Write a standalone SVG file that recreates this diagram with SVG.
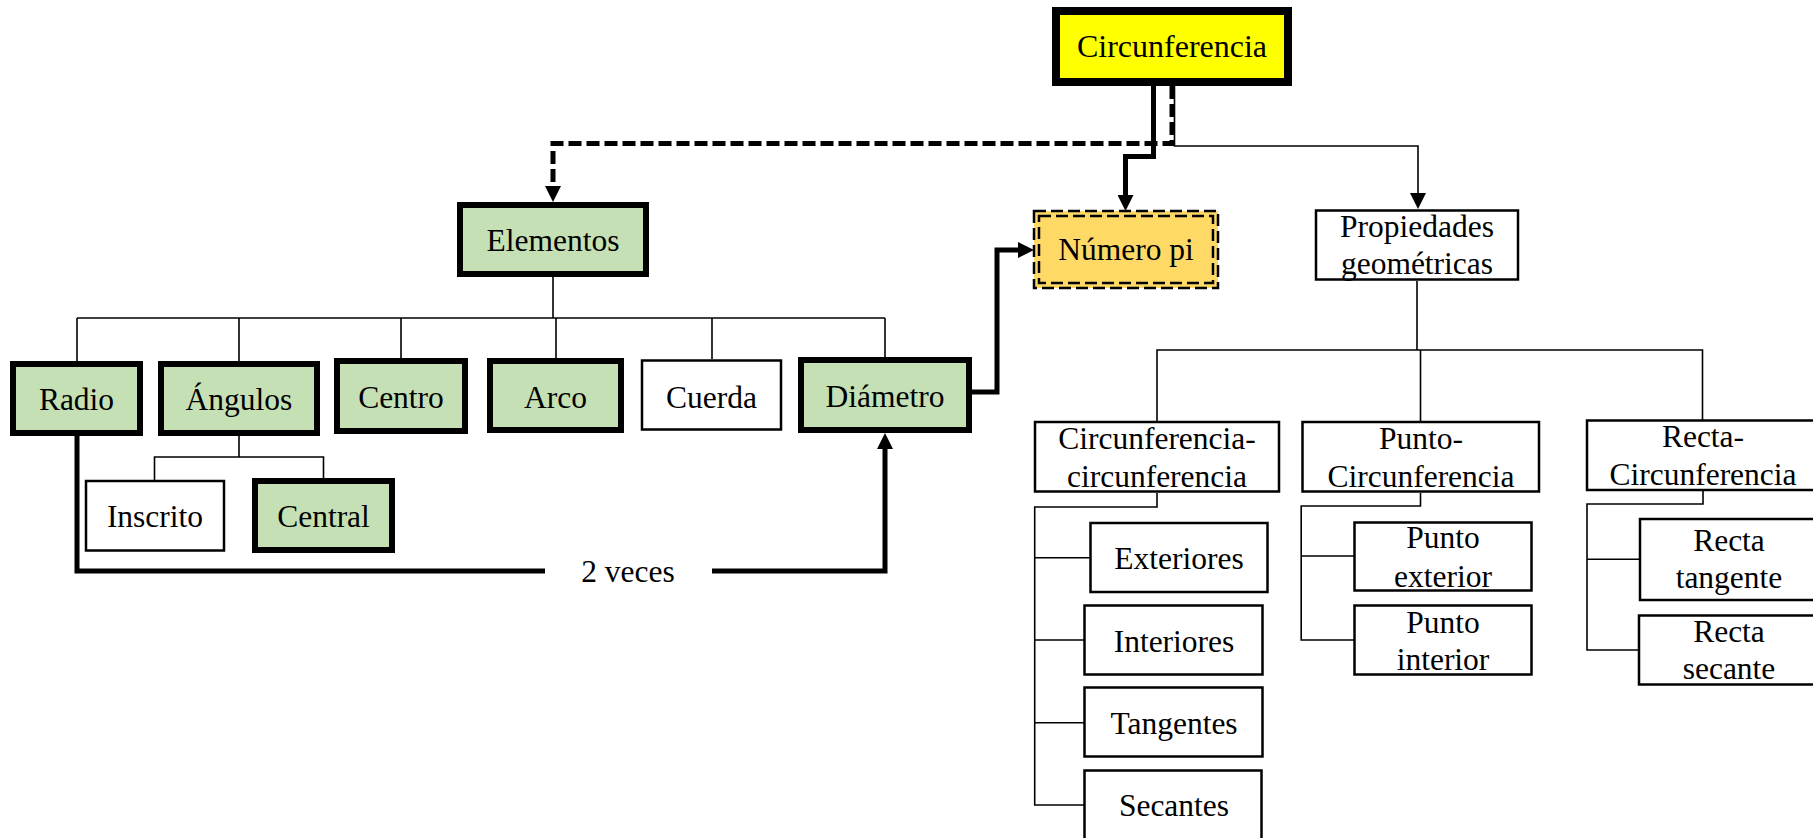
<svg xmlns="http://www.w3.org/2000/svg" width="1813" height="838" viewBox="0 0 1813 838">
<style>
text{font-family:"Liberation Serif","Times New Roman",serif;font-size:31.5px;fill:#000;text-anchor:middle}
.g{fill:#C5E0B4;stroke:#000;stroke-width:6}
.w{fill:#fff;stroke:#000;stroke-width:2.5}
.t{fill:none;stroke:#000;stroke-width:1.6}
.k{fill:none;stroke:#000;stroke-width:5}
.d{fill:none;stroke:#000;stroke-width:5;stroke-dasharray:13 5}
.pd{fill:none;stroke:#000;stroke-width:2.5;stroke-dasharray:12 5}
</style>
<defs>
<marker id="ah" viewBox="0 0 16 16" markerWidth="16" markerHeight="16" refX="0" refY="8" markerUnits="userSpaceOnUse" orient="auto"><path d="M0,0 L16,8 L0,16 z" fill="#000"/></marker>
</defs>
<rect width="1813" height="838" fill="#fff"/>
<g id="connectors">
<path class="t" d="M553,277 V318"/>
<path class="t" d="M77,318 H885"/>
<path class="t" d="M77,318 V361 M239,318 V361 M401,318 V358 M556,318 V358 M712,318 V359 M885,318 V357"/>
<path class="t" d="M239,436 V457 M154.5,481 V457 H323.5 V478"/>
<path class="t" d="M1417,281 V350 M1157,421 V350 H1702.5 V420 M1420.5,350 V421"/>
<path class="t" d="M1157,493 V507 H1034.7 V805 H1084 M1034.7,557.7 H1090 M1034.7,640 H1084 M1034.7,722.7 H1084"/>
<path class="t" d="M1420.5,493 V506 H1301.2 V640 H1354 M1301.2,556 H1354"/>
<path class="t" d="M1703,491 V504 H1587 V650 H1639 M1587,559.3 H1640"/>
<path class="d" d="M1172,86 V143.5 H553 V186" marker-end="url(#ah)"/>
<path class="t" d="M1174.5,86 V146 H1418 V193" marker-end="url(#ah)"/>
<path class="k" d="M1153.5,86 V156.5 H1125.5 V195" marker-end="url(#ah)"/>
<path class="k" d="M971,392 H997 V250 H1018" marker-end="url(#ah)"/>
<path class="k" d="M77,436 V571 H545"/>
<path class="k" d="M712,571 H885 V449" marker-end="url(#ah)"/>
<text x="628" y="582">2 veces</text>
</g>
<g id="circunferencia"><rect x="1056" y="11" width="232" height="71" fill="#FFFF00" stroke="#000" stroke-width="8"/><text x="1172" y="57" style="font-size:32px">Circunferencia</text></g>
<g id="elementos"><rect class="g" x="460" y="205" width="186" height="69"/><text x="553" y="251">Elementos</text></g>
<g id="numero-pi"><rect x="1034" y="211" width="184" height="77" fill="#FFD966"/><rect class="pd" x="1034" y="211" width="184" height="77"/><rect class="pd" x="1039" y="216" width="174" height="67"/><text x="1126" y="260">Número pi</text></g>
<g id="propiedades"><rect class="w" x="1316" y="210.5" width="202" height="69"/><text x="1417" y="237">Propiedades</text><text x="1417" y="274">geométricas</text></g>
<g id="radio"><rect class="g" x="13" y="364" width="127" height="69"/><text x="76.5" y="410">Radio</text></g>
<g id="angulos"><rect class="g" x="161" y="364" width="156" height="69"/><text x="239" y="410">Ángulos</text></g>
<g id="centro"><rect class="g" x="337" y="361" width="128" height="70"/><text x="401" y="408">Centro</text></g>
<g id="arco"><rect class="g" x="490" y="361" width="131" height="69"/><text x="555.5" y="408">Arco</text></g>
<g id="cuerda"><rect class="w" x="642" y="360.5" width="139" height="69"/><text x="711.5" y="408">Cuerda</text></g>
<g id="diametro"><rect class="g" x="801" y="360" width="168" height="70"/><text x="885" y="407">Diámetro</text></g>
<g id="inscrito"><rect class="w" x="86" y="481" width="138" height="69.5"/><text x="155" y="527">Inscrito</text></g>
<g id="central"><rect class="g" x="255" y="481" width="137" height="69"/><text x="323.5" y="527">Central</text></g>
<g id="circ-circ"><rect class="w" x="1035" y="422" width="244" height="69.5"/><text x="1157" y="449">Circunferencia-</text><text x="1157" y="487">circunferencia</text></g>
<g id="punto-circ"><rect class="w" x="1302.5" y="422" width="236.5" height="69.5"/><text x="1421" y="449">Punto-</text><text x="1421" y="487">Circunferencia</text></g>
<g id="recta-circ"><rect class="w" x="1587" y="420.5" width="232" height="69.5"/><text x="1703" y="447">Recta-</text><text x="1703" y="485">Circunferencia</text></g>
<g id="exteriores"><rect class="w" x="1090.5" y="523" width="177" height="69"/><text x="1179" y="569">Exteriores</text></g>
<g id="interiores"><rect class="w" x="1084.5" y="605.5" width="178" height="69"/><text x="1174" y="652">Interiores</text></g>
<g id="tangentes"><rect class="w" x="1084.5" y="687.5" width="178" height="69"/><text x="1174" y="734">Tangentes</text></g>
<g id="secantes"><rect class="w" x="1084.5" y="770.5" width="177" height="80"/><text x="1174" y="816">Secantes</text></g>
<g id="punto-exterior"><rect class="w" x="1354.5" y="522.5" width="177" height="68"/><text x="1443" y="548">Punto</text><text x="1443" y="587">exterior</text></g>
<g id="punto-interior"><rect class="w" x="1354.5" y="605.5" width="177" height="69"/><text x="1443" y="633">Punto</text><text x="1443" y="670">interior</text></g>
<g id="recta-tangente"><rect class="w" x="1640" y="519" width="178" height="81"/><text x="1729" y="551">Recta</text><text x="1729" y="588">tangente</text></g>
<g id="recta-secante"><rect class="w" x="1639" y="615.5" width="178" height="69"/><text x="1729" y="642">Recta</text><text x="1729" y="679">secante</text></g>
</svg>
